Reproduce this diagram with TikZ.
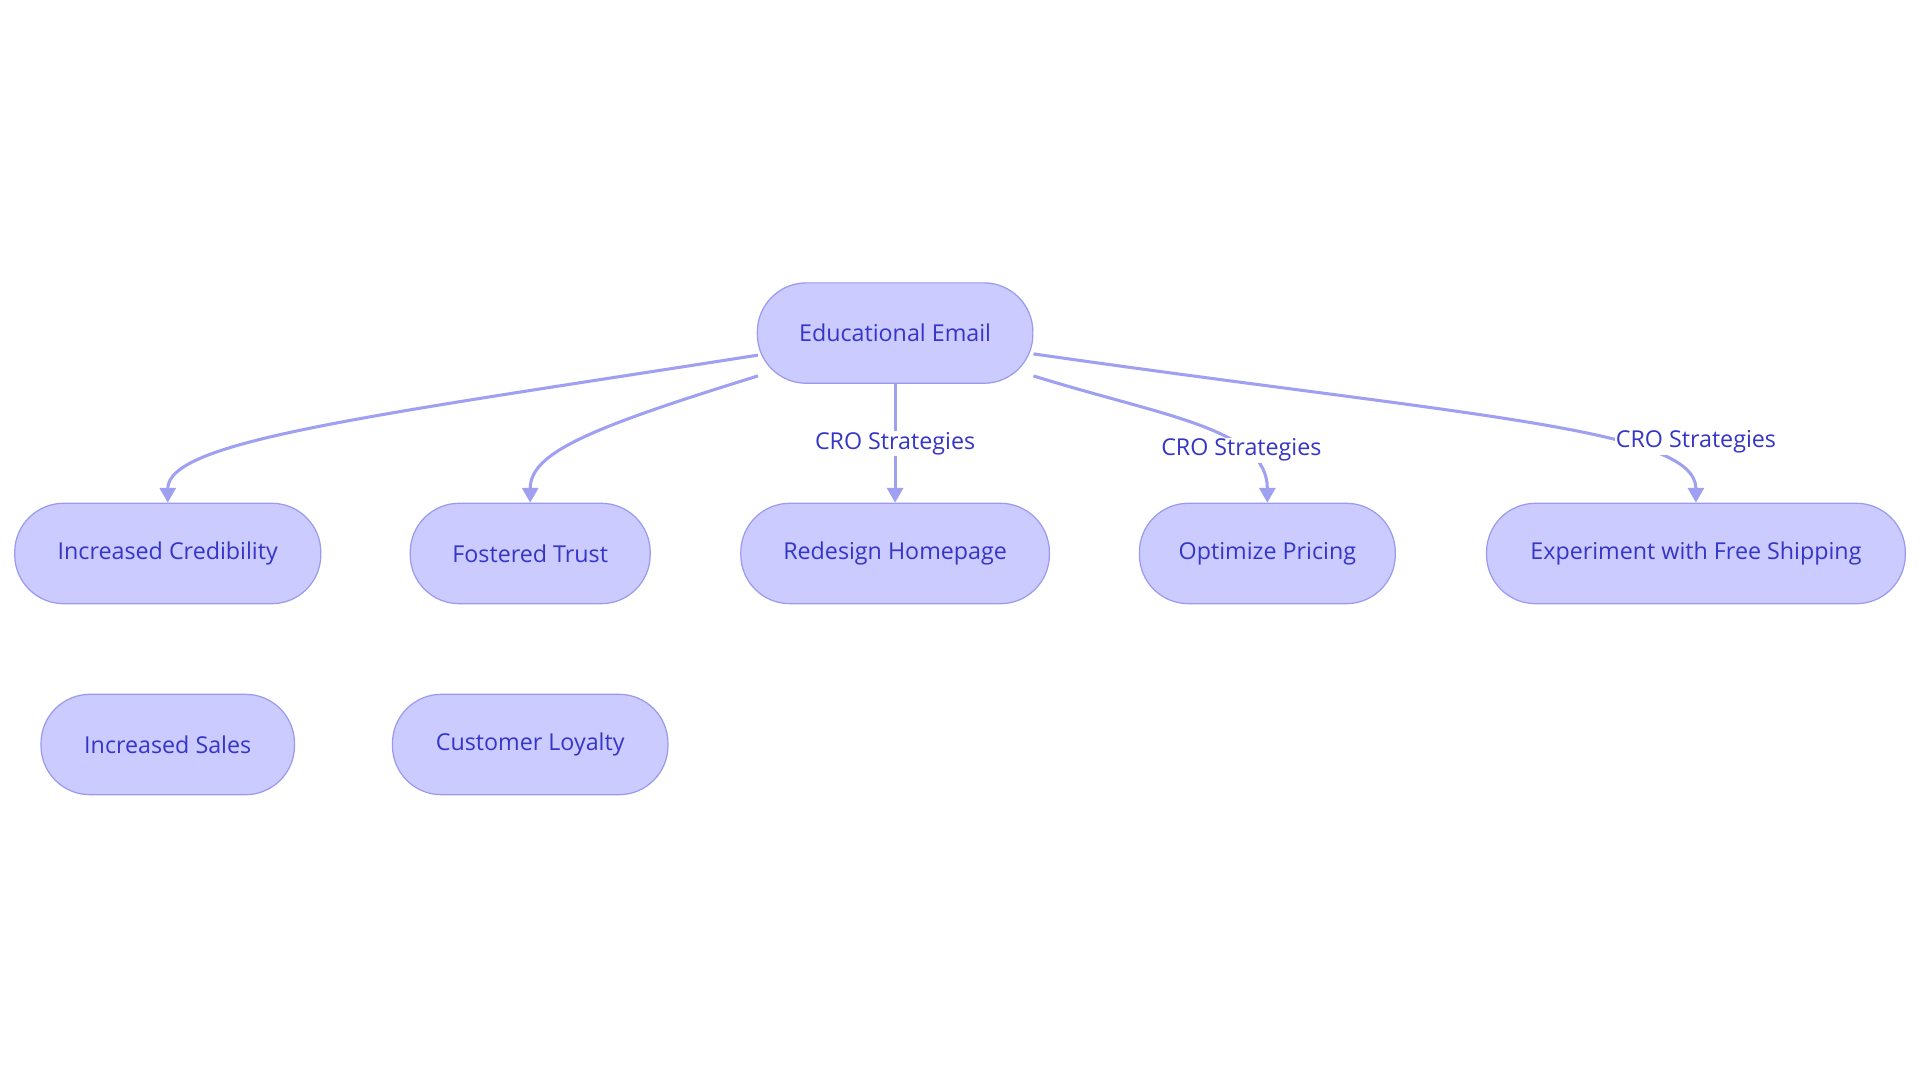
\documentclass[tikz,border=0pt]{standalone}
\usepackage{fontspec}
\setmainfont{Open Sans}
\usetikzlibrary{arrows.meta}
\definecolor{nfill}{HTML}{CBCBFF}
\definecolor{nline}{HTML}{9A9AEE}
\definecolor{ntext}{HTML}{3535C8}
\definecolor{eline}{HTML}{A0A0F2}
\begin{document}
\begin{tikzpicture}[x=1pt,y=-1pt,
 box/.style={draw=nline,fill=nfill,rounded corners=40pt,minimum height=82pt,text=ntext,font=\fontsize{19}{22}\selectfont,line width=1pt,inner sep=0pt},
 conn/.style={draw=eline,line width=2.5pt,-{Triangle[length=12pt,width=13pt]}},
 lab/.style={fill=white,text=ntext,font=\fontsize{19}{22}\selectfont,inner sep=1pt}]
\useasboundingbox (0,0) rectangle (1568,884);
\node[box,minimum width=225pt] (e) at (731,272) {Educational Email};
\node[box,minimum width=250pt] (c) at (137,452) {Increased Credibility};
\node[box,minimum width=196pt] (f) at (433,452) {Fostered Trust};
\node[box,minimum width=252pt] (r) at (731,452) {Redesign Homepage};
\node[box,minimum width=209pt] (o) at (1035,452) {Optimize Pricing};
\node[box,minimum width=342pt] (x) at (1385,452) {Experiment with Free Shipping};
\node[box,minimum width=207pt] (s) at (137,608) {Increased Sales};
\node[box,minimum width=225pt] (l) at (433,608) {Customer Loyalty};
\coordinate (e1) at (619,290);
\coordinate (e2) at (619,307);
\coordinate (e3) at (844,307);
\coordinate (e4) at (844,289);
\draw[conn] (e1) .. controls (300,340) and (137,360) .. (c.north);
\draw[conn] (e2) .. controls (480,350) and (433,370) .. (f.north);
\draw[conn] (e.south) -- (r.north) node[lab,pos=0.5] {CRO Strategies};
\draw[conn] (e3) .. controls (950,340) and (1035,350) .. (o.north) node[lab,pos=0.7] {CRO Strategies};
\draw[conn] (e4) .. controls (1200,340) and (1385,350) .. (x.north);
\node[lab] (l3) at (1385,361) {CRO Strategies};
\end{tikzpicture}
\end{document}
